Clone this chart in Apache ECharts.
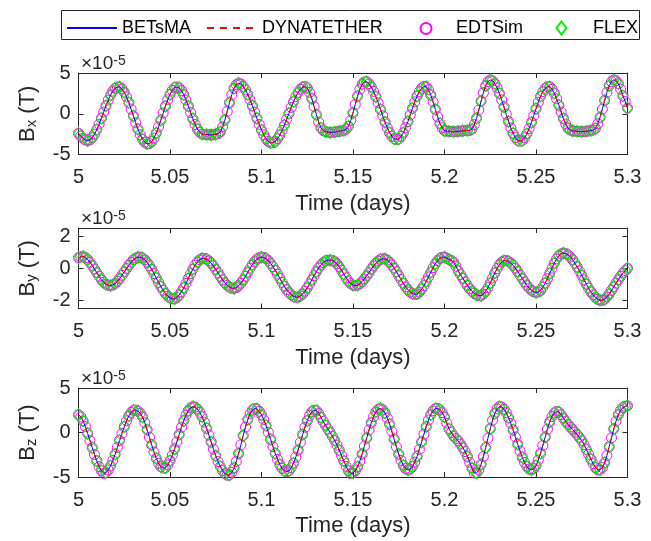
<!DOCTYPE html>
<html>
<head>
<meta charset="utf-8">
<script src="https://cdn.jsdelivr.net/npm/echarts@6/dist/echarts.min.js"></script>
<style>
  html, body { margin: 0; padding: 0; background: #fff; }
  #chart { width: 651px; height: 541px; }
</style>
</head>
<body>
<div id="chart"></div>
<script>
// time samples (days), one row per 0.01 day
const days = [
  5, 5.00125, 5.0025, 5.00375, 5.005, 5.00625, 5.0075, 5.00875,
  5.01, 5.01125, 5.0125, 5.01375, 5.015, 5.01625, 5.0175, 5.01875,
  5.02, 5.02125, 5.0225, 5.02375, 5.025, 5.02625, 5.0275, 5.02875,
  5.03, 5.03125, 5.0325, 5.03375, 5.035, 5.03625, 5.0375, 5.03875,
  5.04, 5.04125, 5.0425, 5.04375, 5.045, 5.04625, 5.0475, 5.04875,
  5.05, 5.05125, 5.0525, 5.05375, 5.055, 5.05625, 5.0575, 5.05875,
  5.06, 5.06125, 5.0625, 5.06375, 5.065, 5.06625, 5.0675, 5.06875,
  5.07, 5.07125, 5.0725, 5.07375, 5.075, 5.07625, 5.0775, 5.07875,
  5.08, 5.08125, 5.0825, 5.08375, 5.085, 5.08625, 5.0875, 5.08875,
  5.09, 5.09125, 5.0925, 5.09375, 5.095, 5.09625, 5.0975, 5.09875,
  5.1, 5.10125, 5.1025, 5.10375, 5.105, 5.10625, 5.1075, 5.10875,
  5.11, 5.11125, 5.1125, 5.11375, 5.115, 5.11625, 5.1175, 5.11875,
  5.12, 5.12125, 5.1225, 5.12375, 5.125, 5.12625, 5.1275, 5.12875,
  5.13, 5.13125, 5.1325, 5.13375, 5.135, 5.13625, 5.1375, 5.13875,
  5.14, 5.14125, 5.1425, 5.14375, 5.145, 5.14625, 5.1475, 5.14875,
  5.15, 5.15125, 5.1525, 5.15375, 5.155, 5.15625, 5.1575, 5.15875,
  5.16, 5.16125, 5.1625, 5.16375, 5.165, 5.16625, 5.1675, 5.16875,
  5.17, 5.17125, 5.1725, 5.17375, 5.175, 5.17625, 5.1775, 5.17875,
  5.18, 5.18125, 5.1825, 5.18375, 5.185, 5.18625, 5.1875, 5.18875,
  5.19, 5.19125, 5.1925, 5.19375, 5.195, 5.19625, 5.1975, 5.19875,
  5.2, 5.20125, 5.2025, 5.20375, 5.205, 5.20625, 5.2075, 5.20875,
  5.21, 5.21125, 5.2125, 5.21375, 5.215, 5.21625, 5.2175, 5.21875,
  5.22, 5.22125, 5.2225, 5.22375, 5.225, 5.22625, 5.2275, 5.22875,
  5.23, 5.23125, 5.2325, 5.23375, 5.235, 5.23625, 5.2375, 5.23875,
  5.24, 5.24125, 5.2425, 5.24375, 5.245, 5.24625, 5.2475, 5.24875,
  5.25, 5.25125, 5.2525, 5.25375, 5.255, 5.25625, 5.2575, 5.25875,
  5.26, 5.26125, 5.2625, 5.26375, 5.265, 5.26625, 5.2675, 5.26875,
  5.27, 5.27125, 5.2725, 5.27375, 5.275, 5.27625, 5.2775, 5.27875,
  5.28, 5.28125, 5.2825, 5.28375, 5.285, 5.28625, 5.2875, 5.28875,
  5.29, 5.29125, 5.2925, 5.29375, 5.295, 5.29625, 5.2975, 5.29875,
  5.3
];

// field components, in units of 1e-5 T
const bx = [
  -2.4, -2.75, -3.0, -3.21, -3.3, -3.2, -2.94, -2.51,
  -1.95, -1.28, -0.55, 0.21, 0.97, 1.67, 2.29, 2.78,
  3.12, 3.29, 3.27, 3.04, 2.64, 2.07, 1.37, 0.57,
  -0.27, -1.11, -1.89, -2.58, -3.13, -3.5, -3.69, -3.66,
  -3.43, -2.98, -2.37, -1.62, -0.79, 0.08, 0.93, 1.71,
  2.38, 2.88, 3.2, 3.29, 3.18, 2.85, 2.35, 1.69,
  0.94, 0.15, -0.63, -1.32, -1.89, -2.26, -2.48, -2.55,
  -2.55, -2.58, -2.6, -2.56, -2.5, -2.45, -2.23, -1.61,
  -0.76, 0.28, 1.35, 2.33, 3.12, 3.57, 3.74, 3.65,
  3.35, 2.93, 2.38, 1.72, 0.98, 0.2, -0.57, -1.32,
  -2.0, -2.59, -3.07, -3.39, -3.56, -3.55, -3.39, -3.07,
  -2.62, -2.05, -1.4, -0.69, 0.05, 0.78, 1.48, 2.1,
  2.61, 3.01, 3.25, 3.33, 3.16, 2.62, 1.85, 0.89,
  -0.11, -1.02, -1.74, -2.07, -2.2, -2.26, -2.3, -2.28,
  -2.25, -2.2, -2.15, -2.1, -2.05, -1.89, -1.54, -0.82,
  0.1, 1.14, 2.16, 3.01, 3.64, 3.91, 3.92, 3.69,
  3.28, 2.74, 2.09, 1.34, 0.54, -0.26, -1.03, -1.73,
  -2.32, -2.77, -3.06, -3.17, -3.09, -2.8, -2.33, -1.7,
  -0.96, -0.15, 0.67, 1.46, 2.16, 2.72, 3.12, 3.34,
  3.32, 2.94, 2.31, 1.47, 0.54, -0.38, -1.19, -1.73,
  -2.07, -2.14, -2.15, -2.19, -2.2, -2.19, -2.15, -2.13,
  -2.1, -2.08, -2.05, -2.05, -1.88, -1.34, -0.56, 0.46,
  1.55, 2.58, 3.44, 3.94, 4.15, 4.04, 3.69, 3.17,
  2.5, 1.7, 0.83, -0.07, -0.95, -1.74, -2.41, -2.93,
  -3.26, -3.37, -3.27, -2.96, -2.47, -1.82, -1.06, -0.23,
  0.62, 1.42, 2.14, 2.71, 3.11, 3.32, 3.31, 3.02,
  2.52, 1.84, 1.05, 0.21, -0.59, -1.26, -1.77, -2.0,
  -2.1, -2.14, -2.15, -2.19, -2.2, -2.19, -2.15, -2.11,
  -2.05, -2.0, -1.8, -1.23, -0.44, 0.57, 1.63, 2.62,
  3.44, 3.94, 4.15, 4.06, 3.7, 3.02, 2.2, 1.5,
  0.7
];
const by = [
  0.65, 0.71, 0.73, 0.66, 0.54, 0.37, 0.17, -0.05,
  -0.28, -0.5, -0.7, -0.87, -0.99, -1.06, -1.08, -1.04,
  -0.95, -0.81, -0.64, -0.44, -0.23, -0.02, 0.19, 0.37,
  0.52, 0.63, 0.69, 0.69, 0.63, 0.52, 0.36, 0.16,
  -0.07, -0.33, -0.6, -0.88, -1.14, -1.37, -1.57, -1.73,
  -1.84, -1.9, -1.9, -1.82, -1.67, -1.47, -1.22, -0.94,
  -0.64, -0.34, -0.06, 0.19, 0.39, 0.53, 0.61, 0.61,
  0.56, 0.46, 0.32, 0.14, -0.07, -0.29, -0.51, -0.72,
  -0.91, -1.06, -1.17, -1.24, -1.25, -1.2, -1.09, -0.93,
  -0.73, -0.5, -0.25, 0.0, 0.22, 0.41, 0.56, 0.65,
  0.69, 0.67, 0.6, 0.47, 0.3, 0.1, -0.12, -0.37,
  -0.62, -0.88, -1.12, -1.33, -1.51, -1.65, -1.75, -1.8,
  -1.79, -1.72, -1.6, -1.43, -1.22, -0.98, -0.72, -0.46,
  -0.21, 0.02, 0.21, 0.35, 0.45, 0.5, 0.5, 0.48,
  0.41, 0.27, 0.09, -0.13, -0.37, -0.6, -0.8, -0.95,
  -1.05, -1.08, -1.05, -0.96, -0.83, -0.66, -0.47, -0.27,
  -0.06, 0.14, 0.31, 0.45, 0.54, 0.59, 0.58, 0.51,
  0.38, 0.21, 0.01, -0.22, -0.46, -0.7, -0.94, -1.16,
  -1.34, -1.48, -1.57, -1.62, -1.6, -1.48, -1.3, -1.08,
  -0.82, -0.54, -0.25, 0.03, 0.28, 0.47, 0.61, 0.68,
  0.69, 0.63, 0.54, 0.47, 0.38, 0.13, -0.16, -0.4,
  -0.62, -0.85, -1.07, -1.27, -1.43, -1.56, -1.65, -1.7,
  -1.7, -1.61, -1.44, -1.2, -0.92, -0.61, -0.3, -0.02,
  0.22, 0.38, 0.47, 0.48, 0.42, 0.32, 0.18, 0.0,
  -0.2, -0.42, -0.64, -0.86, -1.06, -1.23, -1.37, -1.46,
  -1.5, -1.48, -1.38, -1.18, -0.93, -0.64, -0.32, 0.0,
  0.31, 0.58, 0.78, 0.9, 0.94, 0.91, 0.83, 0.7,
  0.53, 0.32, 0.08, -0.17, -0.44, -0.72, -0.99, -1.24,
  -1.46, -1.65, -1.81, -1.93, -1.99, -1.99, -1.92, -1.78,
  -1.6, -1.38, -1.15, -0.92, -0.7, -0.5, -0.3, -0.15,
  0.0
];
const bz = [
  2.0, 1.75, 1.3, 0.66, -0.1, -0.9, -1.7, -2.48,
  -3.2, -3.83, -4.3, -4.6, -4.5, -4.21, -3.74, -3.15,
  -2.45, -1.68, -0.88, -0.1, 0.64, 1.31, 1.87, 2.26,
  2.48, 2.52, 2.4, 2.16, 1.75, 1.09, 0.3, -0.55,
  -1.4, -2.2, -2.9, -3.46, -3.85, -4.01, -3.95, -3.65,
  -3.17, -2.56, -1.84, -1.05, -0.23, 0.58, 1.33, 1.96,
  2.45, 2.76, 2.9, 2.85, 2.63, 2.27, 1.78, 1.17,
  0.47, -0.29, -1.07, -1.87, -2.62, -3.27, -3.83, -4.29,
  -4.62, -4.8, -4.77, -4.49, -3.98, -3.25, -2.36, -1.37,
  -0.35, 0.61, 1.45, 2.1, 2.53, 2.69, 2.63, 2.39,
  1.98, 1.44, 0.78, 0.02, -0.78, -1.58, -2.34, -3.02,
  -3.6, -4.03, -4.3, -4.4, -4.3, -3.97, -3.46, -2.77,
  -1.97, -1.1, -0.23, 0.6, 1.32, 1.91, 2.33, 2.5,
  2.45, 2.14, 1.7, 1.25, 0.8, 0.4, 0.0, -0.43,
  -0.9, -1.42, -2.0, -2.6, -3.2, -3.8, -4.3, -4.6,
  -4.55, -4.31, -3.86, -3.21, -2.42, -1.53, -0.61, 0.28,
  1.09, 1.78, 2.31, 2.61, 2.7, 2.55, 2.19, 1.63,
  0.93, 0.12, -0.75, -1.62, -2.43, -3.13, -3.69, -4.05,
  -4.2, -4.12, -3.83, -3.33, -2.68, -1.9, -1.06, -0.19,
  0.65, 1.4, 2.01, 2.44, 2.68, 2.7, 2.55, 2.23,
  1.75, 1.05, 0.4, 0.0, -0.4, -0.68, -0.95, -1.3,
  -1.7, -2.15, -2.7, -3.35, -4.0, -4.55, -4.55, -4.21,
  -3.57, -2.7, -1.7, -0.63, 0.43, 1.38, 2.15, 2.65,
  2.9, 2.87, 2.62, 2.21, 1.66, 1.02, 0.29, -0.51,
  -1.32, -2.09, -2.78, -3.37, -3.82, -4.11, -4.2, -4.07,
  -3.72, -3.11, -2.33, -1.45, -0.52, 0.38, 1.18, 1.79,
  2.2, 2.36, 2.3, 2.0, 1.6, 1.25, 0.9, 0.62,
  0.35, 0.05, -0.25, -0.57, -0.9, -1.35, -1.9, -2.45,
  -3.0, -3.5, -3.95, -4.19, -4.2, -3.93, -3.4, -2.58,
  -1.6, -0.59, 0.4, 1.28, 2.0, 2.49, 2.8, 2.93,
  3.0
];

const xTicks = [5, 5.05, 5.1, 5.15, 5.2, 5.25, 5.3];
const bxTicks = [-5, 0, 5];
const byTicks = [-2, 0, 2];
const bzTicks = [-5, 0, 5];
const components = ['x', 'y', 'z'];

const FONT = '"Liberation Sans", Arial, Helvetica, sans-serif';
const INK = '#262626';

const panels = [
  { values: bx, ticks: bxTicks, min: -5, max: 5, top: 73, height: 81.5 },
  { values: by, ticks: byTicks, min: -2.5, max: 2.5, top: 228, height: 80.5 },
  { values: bz, ticks: bzTicks, min: -5, max: 5, top: 388, height: 89 }
];

const chart = echarts.init(document.getElementById('chart'));

const grid = [], xAxis = [], yAxis = [], series = [], graphic = [];

panels.forEach((p, i) => {
  grid.push({ left: 78.5, right: 23.5, top: p.top, height: p.height, outerBoundsMode: 'none', containLabel: false });

  const lineSty = { color: INK, width: 1 };
  xAxis.push({
    type: 'value', gridIndex: i, min: 5, max: 5.3, position: 'bottom',
    name: 'Time (days)', nameLocation: 'middle', nameGap: 38,
    nameTextStyle: { fontFamily: FONT, fontSize: 22, color: INK },
    axisLine: { show: true, onZero: false, lineStyle: lineSty },
    axisTick: { show: true, inside: true, length: 5, customValues: xTicks, lineStyle: lineSty },
    axisLabel: { customValues: xTicks, fontFamily: FONT, fontSize: 20, color: INK, margin: 13 },
    splitLine: { show: false }
  });
  xAxis.push({
    type: 'value', gridIndex: i, min: 5, max: 5.3, position: 'top',
    axisLine: { show: true, onZero: false, lineStyle: lineSty },
    axisTick: { show: true, inside: true, length: 5, customValues: xTicks, lineStyle: lineSty },
    axisLabel: { show: false },
    splitLine: { show: false }
  });
  yAxis.push({
    type: 'value', gridIndex: i, min: p.min, max: p.max, position: 'left',
    axisLine: { show: true, onZero: false, lineStyle: lineSty },
    axisTick: { show: true, inside: true, length: 5, customValues: p.ticks, lineStyle: lineSty },
    axisLabel: { customValues: p.ticks, fontFamily: FONT, fontSize: 20, color: INK, margin: 8 },
    splitLine: { show: false }
  });
  yAxis.push({
    type: 'value', gridIndex: i, min: p.min, max: p.max, position: 'right',
    axisLine: { show: true, onZero: false, lineStyle: lineSty },
    axisTick: { show: true, inside: true, length: 5, customValues: p.ticks, lineStyle: lineSty },
    axisLabel: { show: false },
    splitLine: { show: false }
  });

  const pts = days.map((t, k) => [t, p.values[k]]);
  const xi = i * 2, yi = i * 2;
  series.push({
    name: 'BETsMA', type: 'line', xAxisIndex: xi, yAxisIndex: yi, data: pts,
    symbol: 'none', showSymbol: false, lineStyle: { color: '#0000ff', width: 1 }, itemStyle: { color: '#0000ff' }
  });
  series.push({
    name: 'DYNATETHER', type: 'line', xAxisIndex: xi, yAxisIndex: yi, data: pts,
    symbol: 'none', showSymbol: false, lineStyle: { color: '#ff0000', width: 1, type: [7, 6] }, itemStyle: { color: '#ff0000' }
  });
  series.push({
    name: 'EDTSim', type: 'scatter', xAxisIndex: xi, yAxisIndex: yi, data: pts,
    symbol: 'circle', symbolSize: 10,
    itemStyle: { color: 'transparent', borderColor: '#ff00ff', borderWidth: 1, opacity: 1 }
  });
  series.push({
    name: 'FLEX', type: 'scatter', xAxisIndex: xi, yAxisIndex: yi, data: pts.filter((d, k) => k % 2 === 0),
    symbol: 'diamond', symbolSize: [10, 12],
    itemStyle: { color: 'transparent', borderColor: '#00f000', borderWidth: 1, opacity: 1 }
  });

  // y label with subscript
  graphic.push({
    type: 'text', x: 28, y: p.top + p.height / 2, rotation: Math.PI / 2,
    style: {
      text: '{b|B}{s|' + components[i] + '}{b| (T)}',
      align: 'center', verticalAlign: 'middle', textAlign: 'center', textVerticalAlign: 'middle',
      fill: INK,
      rich: {
        b: { fontFamily: FONT, fontSize: 22, lineHeight: 22, verticalAlign: 'top', fill: INK },
        s: { fontFamily: FONT, fontSize: 15, lineHeight: 15, padding: [9, 0, 0, 0], verticalAlign: 'bottom', fill: INK }
      }
    }
  });
  // exponent label
  graphic.push({
    type: 'text', x: 81, y: p.top,
    style: {
      text: '{a|×10}{p|-5}',
      align: 'left', verticalAlign: 'bottom', textAlign: 'left', textVerticalAlign: 'bottom',
      fill: INK,
      rich: {
        a: { fontFamily: FONT, fontSize: 19, lineHeight: 19, padding: [6, 0, 0, 0], verticalAlign: 'bottom', fill: INK },
        p: { fontFamily: FONT, fontSize: 14, lineHeight: 14, verticalAlign: 'top', fill: INK }
      }
    }
  });
});

// legend frame
graphic.push({
  type: 'rect', z: 0,
  shape: { x: 61.5, y: 10.5, width: 578, height: 29 },
  style: { fill: 'none', stroke: INK, lineWidth: 1 }
});

const legendText = { fontFamily: FONT, fontSize: 18, color: '#000' };
const hideSymbol = { color: 'transparent', borderWidth: 0, opacity: 0 };
const legend = [
  { data: ['BETsMA'], left: 66, top: 19, itemWidth: 50, itemHeight: 12, itemStyle: hideSymbol, textStyle: legendText },
  { data: ['DYNATETHER'], left: 206, top: 19, itemWidth: 50, itemHeight: 12, itemStyle: hideSymbol, textStyle: legendText },
  { data: ['EDTSim'], left: 419.5, top: 19.5, itemWidth: 11, itemHeight: 11,
    textStyle: Object.assign({ padding: [0, 0, 0, 19.5] }, legendText) },
  { data: ['FLEX'], left: 555.5, top: 19, itemWidth: 10, itemHeight: 13,
    textStyle: Object.assign({ padding: [0, 0, 0, 21.5] }, legendText) }
].map(l => Object.assign({ orient: 'horizontal', selectedMode: false, padding: 0, z: 5 }, l));

chart.setOption({
  animation: false,
  backgroundColor: '#fff',
  grid, xAxis, yAxis, series, legend, graphic
});

window.addEventListener('resize', chart.resize);
</script>
</body>
</html>
